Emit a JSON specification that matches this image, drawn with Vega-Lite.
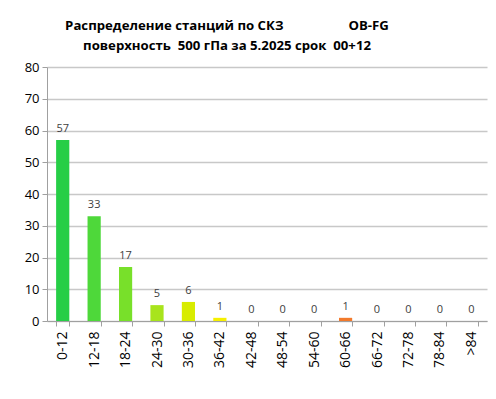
{
  "$schema": "https://vega.github.io/schema/vega-lite/v6.json",
  "autosize": "none",
  "width": 440,
  "height": 254,
  "padding": {"left": 47, "top": 67, "right": 9, "bottom": 78},
  "background": "white",
  "title": {
    "text": ["Распределение станций по СКЗ\u00a0\u00a0\u00a0\u00a0\u00a0\u00a0\u00a0\u00a0\u00a0\u00a0\u00a0\u00a0\u00a0\u00a0\u00a0\u00a0\u00a0\u00a0\u00a0OB-FG", "поверхность\u00a0\u00a0500 гПа за 5.2025 срок\u00a0\u00a000+12"],
    "font": "Open Sans",
    "fontSize": 13.2,
    "fontWeight": "bold",
    "color": "#000000",
    "anchor": "middle",
    "dx": -40,
    "offset": 8,
    "lineHeight": 20
  },
  "data": {
    "values": [
      {"range": "0-12", "count": 57, "color": "#26CE46"},
      {"range": "12-18", "count": 33, "color": "#4ED83A"},
      {"range": "18-24", "count": 17, "color": "#78E02A"},
      {"range": "24-30", "count": 5, "color": "#A8E41C"},
      {"range": "30-36", "count": 6, "color": "#D8EC00"},
      {"range": "36-42", "count": 1, "color": "#F6F000"},
      {"range": "42-48", "count": 0, "color": "#F6D000"},
      {"range": "48-54", "count": 0, "color": "#F6B000"},
      {"range": "54-60", "count": 0, "color": "#F69000"},
      {"range": "60-66", "count": 1, "color": "#F27A2C"},
      {"range": "66-72", "count": 0, "color": "#F06020"},
      {"range": "72-78", "count": 0, "color": "#F04020"},
      {"range": "78-84", "count": 0, "color": "#E02020"},
      {"range": ">84", "count": 0, "color": "#C00000"}
    ]
  },
  "encoding": {
    "x": {
      "field": "range",
      "type": "nominal",
      "sort": null,
      "scale": {"paddingInner": 0.58, "paddingOuter": 0.29},
      "axis": {
        "title": null,
        "labelAngle": -90,
        "labelAlign": "right",
        "labelBaseline": "middle",
        "labelFont": "Open Sans",
        "labelFontSize": 14,
        "labelColor": "#000000",
        "labelPadding": 5,
        "tickBand": "extent",
        "tickColor": "#A0A0A0",
        "tickSize": 5,
        "domainColor": "#A0A0A0",
        "grid": false
      }
    },
    "y": {
      "field": "count",
      "type": "quantitative",
      "scale": {"domain": [0, 80]},
      "axis": {
        "title": null,
        "values": [0, 10, 20, 30, 40, 50, 60, 70, 80],
        "labelFont": "Open Sans",
        "labelFontSize": 13,
        "labelColor": "#000000",
        "labelPadding": 3,
        "tickColor": "#A0A0A0",
        "tickSize": 5,
        "domainColor": "#A0A0A0",
        "gridColor": "#C8C8C8",
        "gridWidth": 1.5
      }
    }
  },
  "layer": [
    {
      "mark": {"type": "bar"},
      "encoding": {
        "color": {"field": "color", "type": "nominal", "scale": null}
      }
    },
    {
      "mark": {"type": "text", "baseline": "bottom", "dy": -6, "font": "Open Sans", "fontSize": 11, "fill": "#404040"},
      "encoding": {
        "text": {"field": "count", "type": "quantitative"}
      }
    }
  ],
  "config": {
    "view": {"stroke": null}
  }
}
